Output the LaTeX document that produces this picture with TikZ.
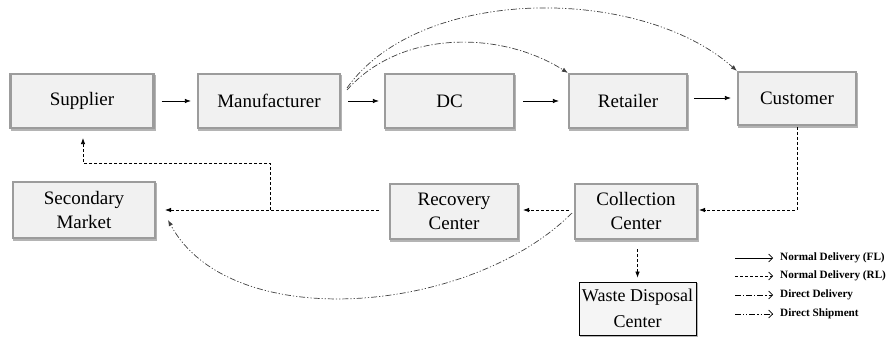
\documentclass[tikz,border=0pt]{standalone}
\usepackage{fontspec}
\setmainfont{Liberation Serif}
\usetikzlibrary{arrows.meta}
\definecolor{boxfill}{HTML}{F1F1F1}
\definecolor{boxline}{HTML}{9C9C9C}
\definecolor{shadowc}{HTML}{B4B4B4}
\begin{document}
\begin{tikzpicture}[x=1pt,y=-1pt,
  box/.style={draw=boxline,line width=2.2pt,fill=boxfill,inner sep=0pt,align=center,
    text=black,font=\rmfamily\fontsize{19}{24}\selectfont,
    preaction={draw=shadowc,line width=2.2pt,fill=shadowc,transform canvas={xshift=1.2pt,yshift=-2.2pt}}},
  wbox/.style={draw=black,line width=0.8pt,fill=white!96!black,inner sep=0pt,align=center,
    text=black,font=\rmfamily\fontsize{18}{26}\selectfont,
    preaction={draw=shadowc,fill=shadowc,transform canvas={xshift=1pt,yshift=-1.5pt}}},
  fl/.style={line width=0.8pt,-{Latex[length=6pt,width=4.5pt]}},
  rl/.style={line width=0.7pt,dash pattern=on 3pt off 2pt,-{Latex[length=6pt,width=4.5pt]}},
  dd/.style={line width=0.7pt,black!75,dash pattern=on 6pt off 2pt on 1.2pt off 2pt,-{Latex[length=6pt,width=4.5pt]}},
  ds/.style={line width=0.7pt,black!75,dash pattern=on 6pt off 2pt on 1.2pt off 2pt on 1.2pt off 2pt,-{Latex[length=6pt,width=4.5pt]}},
  legarrow/.style={line width=0.7pt,-{Straight Barb[length=4pt,width=8pt]}},
  legtext/.style={anchor=west,font=\rmfamily\bfseries\fontsize{11.2}{13}\selectfont,inner sep=0pt}]
\useasboundingbox (0,0) rectangle (896,339);

\node[box,minimum width=143pt,minimum height=54pt] (sup) at (82,101) {Supplier};
\node[box,minimum width=142pt,minimum height=54pt] (man) at (269,101) {Manufacturer};
\node[box,minimum width=129pt,minimum height=54pt] (dc) at (449.5,101) {DC};
\node[box,minimum width=118pt,minimum height=54pt] (ret) at (628,101) {Retailer};
\node[box,minimum width=118pt,minimum height=53pt] (cus) at (797,98.5) {Customer};
\node[box,minimum width=142pt,minimum height=56pt] (sec) at (84,210) {Secondary\\Market};
\node[box,minimum width=128pt,minimum height=55pt] (rec) at (454,211.5) {Recovery\\Center};
\node[box,minimum width=122pt,minimum height=55pt] (col) at (636,211.5) {Collection\\Center};
\node[wbox,minimum width=117pt,minimum height=53pt] (waste) at (637.5,308.5) {Waste Disposal\\Center};

% forward flow
\draw[fl,shorten <=7pt,shorten >=6pt] (sup.east) -- (man.west);
\draw[fl,shorten <=7pt,shorten >=5pt] (man.east) -- (dc.west);
\draw[fl,shorten <=8pt,shorten >=9pt] (dc.east) -- (ret.west);
\draw[fl,shorten <=6pt,shorten >=6pt] (ret.east |- 0,98) -- (cus.west |- 0,98);

% direct delivery / shipment
\coordinate (mtop1) at (347,90);
\coordinate (mtop2) at (347,88);
\draw[dd] (mtop1) .. controls (400,30) and (500,30) .. (ret.north west);
\draw[ds] (mtop2) .. controls (420,-15) and (640,-15) .. (cus.north west);

% reverse flow
\coordinate (cusbot) at (797,127);
\coordinate (turn1) at (797,210);
\draw[rl,shorten >=1pt] (cusbot) -- (turn1) -- (col.east |- turn1);
\draw[rl,shorten <=5pt,shorten >=4pt] (col.west |- 0,210) -- (rec.east |- 0,210);
\draw[rl,shorten <=10pt,shorten >=9pt] (rec.west |- 0,210) -- (sec.east |- 0,210);
\coordinate (br) at (270,210);
\coordinate (br2) at (270,163);
\coordinate (br3) at (83,163);
\draw[rl,shorten >=9pt] (br) -- (br2) -- (br3) -- (br3 |- sup.south);
\draw[rl,shorten <=9pt,shorten >=4pt] (col.south -| waste.north) -- (waste.north);

% direct shipment from collection to secondary market
\coordinate (cstart) at (572,213);
\coordinate (send) at (168,220);
\draw[ds] (cstart) .. controls (470,315) and (230,335) .. (send);

% legend
\coordinate (l1a) at (735,258); \coordinate (l1b) at (773,258);
\coordinate (l2a) at (735,276); \coordinate (l2b) at (773,276);
\coordinate (l3a) at (735,295); \coordinate (l3b) at (773,295);
\coordinate (l4a) at (735,314); \coordinate (l4b) at (773,314);
\draw[legarrow] (l1a) -- (l1b);
\draw[legarrow,dash pattern=on 3pt off 2pt] (l2a) -- (l2b);
\draw[legarrow,dash pattern=on 6pt off 2pt on 1.2pt off 2pt] (l3a) -- (l3b);
\draw[legarrow,dash pattern=on 6pt off 2pt on 1.2pt off 2pt on 1.2pt off 2pt] (l4a) -- (l4b);
\node[legtext] (t1) at (780,258) {Normal Delivery (FL)};
\node[legtext] (t2) at (780,276) {Normal Delivery (RL)};
\node[legtext] (t3) at (780,295) {Direct Delivery};
\node[legtext] (t4) at (780,314) {Direct Shipment};
\end{tikzpicture}
\end{document}
